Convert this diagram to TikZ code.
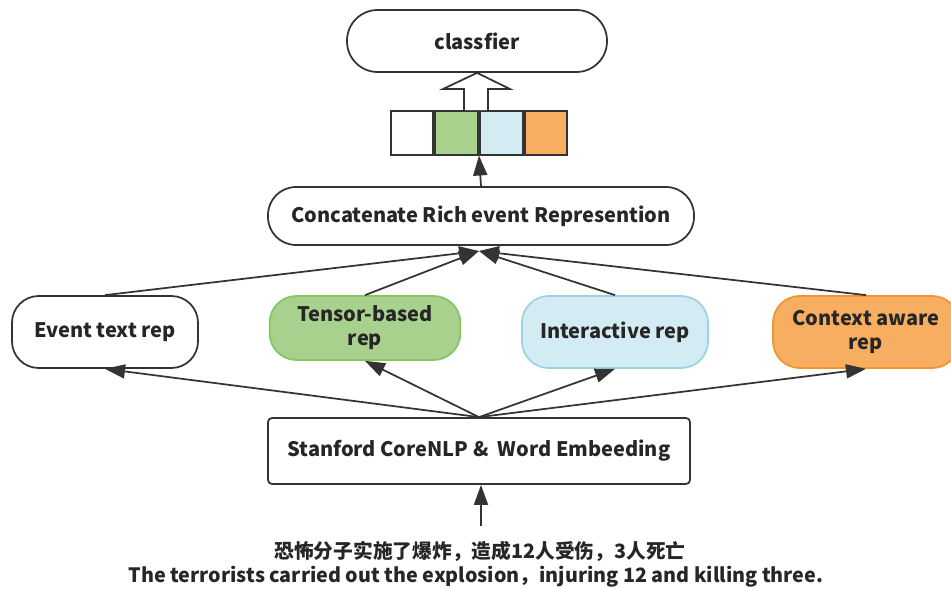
\documentclass[tikz,border=0pt]{standalone}
\usepackage{fontspec}
\setmainfont{Noto Sans CJK SC}
\usetikzlibrary{arrows.meta}
\definecolor{lc}{HTML}{333333}
\definecolor{gfill}{HTML}{A9D18E}
\definecolor{gline}{HTML}{86C562}
\definecolor{bfill}{HTML}{D3ECF3}
\definecolor{bline}{HTML}{9BD3E3}
\definecolor{ofill}{HTML}{F7AE60}
\definecolor{oline}{HTML}{EF952F}
\tikzset{
  box/.style={draw=lc, line width=1.3pt, align=center, font=\bfseries\fontsize{15}{18}\selectfont, text=black!85},
  pill/.style={box, rounded corners=#1},
  arr/.style={draw=lc, line width=1.3pt, -{Triangle[length=15pt,width=10.5pt]}},
  cell/.style={draw=lc, line width=1.5pt, minimum width=32pt, minimum height=33pt, inner sep=0pt}
}
\begin{document}
\begin{tikzpicture}[x=0.75pt,y=-0.75pt]
\useasboundingbox (0,0) rectangle (951,589);
\begin{scope}
\clip (0,0) rectangle (951,589);
% top classifier
\node[pill=23pt, minimum width=195pt, minimum height=46.5pt] (cls) at (477,41) {classfier};
% vector cells
\node[cell, fill=white] (c1) at (412,132.5) {};
\node[cell, fill=gfill, anchor=west] (c2) at (c1.east) {};
\node[cell, fill=bfill, anchor=west] (c3) at (c2.east) {};
\node[cell, fill=ofill, anchor=west] (c4) at (c3.east) {};
% hollow block arrow
\coordinate (bt) at (cls.south);
\draw[lc, line width=1.3pt, fill=white, line join=miter]
  (464,110) -- (464,89) -- (443,89) -- (bt) -- (510,89) -- (488,89) -- (488,110);
% concatenate
\node[pill=21pt, minimum width=319.5pt, minimum height=43.5pt] (cc) at (481,216) {Concatenate Rich event Represention};
\draw[arr] (cc.north) -- (c3.south west);
% reps
\node[pill=20pt, minimum width=139.5pt, minimum height=54pt, fill=white] (ev) at (105,332) {Event text rep};
\node[pill=20pt, minimum width=143pt, minimum height=48pt, fill=gfill, draw=gline] (tb) at (365,328) {Tensor-based\\rep};
\node[pill=20pt, minimum width=139.5pt, minimum height=54pt, fill=bfill, draw=bline] (ia) at (615,332) {Interactive rep};
\node[pill=20pt, minimum width=139.5pt, minimum height=54pt, fill=ofill, draw=oline] (ca) at (866,332) {Context aware\\rep};
% stanford
\node[box, rounded corners=3pt, minimum width=316.5pt, minimum height=49.5pt] (st) at (479,451) {Stanford CoreNLP \&~ Word Embeeding};
\coordinate (conv) at (479,251);
\draw[arr] (ev.north) -- (conv);
\draw[arr] (tb.north) -- (conv);
\draw[arr] (ia.north) -- (conv);
\draw[arr] (ca.north) -- (conv);
\draw[arr] (st.north) -- (ev.south);
\draw[arr] (st.north) -- (tb.south);
\draw[arr] (st.north) -- (ia.south);
\draw[arr] (st.north) -- (ca.south);
% input
\coordinate (inp) at (481,526);
\draw[arr] (inp) -- (st.south -| inp);
\node[font=\bfseries\fontsize{14.8}{16}\selectfont, text=black!85] (zh) at (480,551) {恐怖分子实施了爆炸，造成12人受伤，3人死亡};
\node[font=\bfseries\fontsize{14.8}{16}\selectfont, text=black!85] (en) at (476,577) {The terrorists carried out the explosion，injuring 12 and killing three.};
\end{scope}
\end{tikzpicture}
\end{document}
